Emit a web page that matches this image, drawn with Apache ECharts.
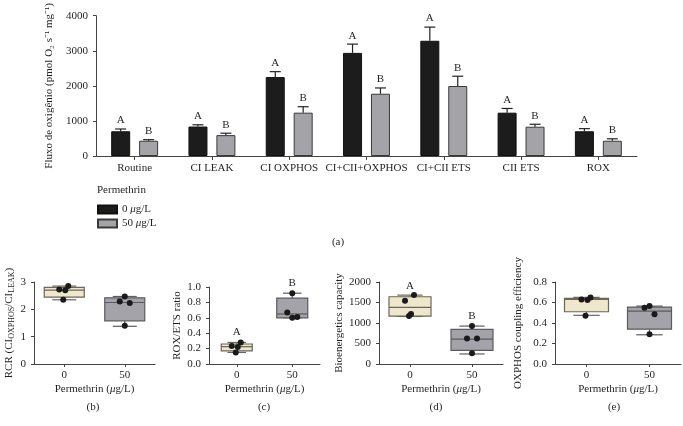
<!DOCTYPE html>
<html>
<head>
<meta charset="utf-8">
<script src="https://cdn.jsdelivr.net/npm/echarts@6/dist/echarts.min.js"></script>
<style>html,body{margin:0;padding:0;background:#fff}#c{width:683px;height:426px}</style>
</head>
<body>
<div id="c"></div>
<script>
// ---------- DATA ----------
var categories = ['Routine', 'CI LEAK', 'CI OXPHOS', 'CI+CII+OXPHOS', 'CI+CII ETS', 'CII ETS', 'ROX'];
var ctrlMean = [705, 840, 2250, 2940, 3285, 1235, 705];
var ctrlErr = [65, 50, 155, 250, 390, 120, 75];
var permMean = [435, 595, 1235, 1775, 1995, 835, 435];
var permErr = [30, 55, 170, 165, 280, 70, 55];
var ctrlLetters = ['A', 'A', 'A', 'A', 'A', 'A', 'A'];
var permLetters = ['B', 'B', 'B', 'B', 'B', 'B', 'B'];
var groups = ['0', '50'];
var seriesNames = ['0 μg/L', '50 μg/L'];
var topTicks = [0, 1000, 2000, 3000, 4000];

// box data: [min, q1, median, q3, max] per group
var rcrBox = [[2.35, 2.45, 2.70, 2.80, 2.85], [1.38, 1.58, 2.25, 2.42, 2.47]];
var rcrDots = [[2.85, 2.73, 2.70, 2.35], [2.47, 2.29, 2.23, 1.40]];
var roxBox = [[0.15, 0.17, 0.225, 0.26, 0.28], [0.60, 0.60, 0.65, 0.855, 0.92]];
var roxDots = [[0.28, 0.235, 0.22, 0.15], [0.92, 0.67, 0.61, 0.60]];
var roxLetters = ['A', 'B'];
var roxLetterY = [0.42, 1.05];
var bioBox = [[1160, 1170, 1380, 1640, 1680], [245, 330, 605, 845, 925]];
var bioDots = [[1680, 1540, 1220, 1170], [925, 620, 620, 260]];
var bioLetters = ['A', 'B'];
var bioLetterY = [1900, 1170];
var oxBox = [[0.475, 0.51, 0.63, 0.64, 0.65], [0.285, 0.34, 0.515, 0.555, 0.565]];
var oxDots = [[0.65, 0.63, 0.625, 0.47], [0.565, 0.55, 0.485, 0.29]];

// ---------- STYLE ----------
var FONT = 'Liberation Serif';
var TXT = '#231f20';
var AX = '#444';
var BLACK = '#1c1c1c';
var GRAY = '#a4a4a8';
var BEIGE = '#efe7cb';
var BOXGRAY = '#a3a3a9';
var barW = 19, barGapFrac = 0.47;
var dotJitter = [[4, -5, 1, -1], [0, -5, 5, 0]];

var chart = echarts.init(document.getElementById('c'), null, {renderer: 'canvas'});

function plain(v) { return String(v); }
function fixed1(v) { return v.toFixed(1); }

function axisCommon() {
  return {
    axisLine: {show: true, lineStyle: {color: AX, width: 1}},
    axisTick: {show: true, length: 3, lineStyle: {color: AX}},
    axisLabel: {fontFamily: FONT, fontSize: 11, color: TXT, formatter: plain},
    splitLine: {show: false},
    nameTextStyle: {fontFamily: FONT, fontSize: 11, color: TXT}
  };
}

var grids = [
  {left: 96, right: 46, top: 9, bottom: 270},
  {left: 34, right: 528, top: 282, bottom: 62},
  {left: 209, right: 363, top: 287, bottom: 62},
  {left: 379, right: 180, top: 282, bottom: 62},
  {left: 555, right: 2, top: 282, bottom: 62}
];

var xAxes = [Object.assign(axisCommon(), {
  type: 'category', gridIndex: 0, data: categories,
  axisTick: {show: true, alignWithLabel: true, length: 4, lineStyle: {color: AX}},
  axisLabel: {fontFamily: FONT, fontSize: 11, color: TXT, margin: 7, interval: 0}
})];
var permName = '{n|Permethrin (}{i|μ}{n|g/L)}';
var nameRich = {n: {fontFamily: FONT, fontSize: 11, color: TXT}, i: {fontFamily: FONT, fontSize: 11, fontStyle: 'italic', color: TXT}};
for (var g = 1; g <= 4; g++) {
  xAxes.push(Object.assign(axisCommon(), {
    type: 'category', gridIndex: g, data: groups,
    axisTick: {show: true, alignWithLabel: true, length: 3, lineStyle: {color: AX}},
    axisLabel: {fontFamily: FONT, fontSize: 11, color: TXT, margin: 6},
    name: permName, nameLocation: 'middle', nameGap: 20,
    nameTextStyle: {rich: nameRich}
  }));
}

var yAxes = [
  Object.assign(axisCommon(), {
    type: 'value', gridIndex: 0, min: topTicks[0], max: topTicks[topTicks.length - 1], interval: 1000,
    name: 'Fluxo de oxigênio (pmol O₂ s⁻¹ mg⁻¹)', nameLocation: 'middle', nameRotate: 90, nameGap: 37
  }),
  Object.assign(axisCommon(), {
    type: 'value', gridIndex: 1, min: 0, max: 3, interval: 1,
    name: '{n|RCR (CI}{s|OXPHOS}{n|/CI}{s|LEAK}{n|)}', nameLocation: 'middle', nameRotate: 90, nameGap: 18,
    nameTextStyle: {rich: {n: {fontFamily: FONT, fontSize: 11, color: TXT, lineHeight: 14}, s: {fontFamily: FONT, fontSize: 8, color: TXT, verticalAlign: 'bottom', lineHeight: 14, padding: [4, 0, 0, 0]}}}
  }),
  Object.assign(axisCommon(), {
    type: 'value', gridIndex: 2, min: 0, max: 1, interval: 0.2,
    axisLabel: {fontFamily: FONT, fontSize: 11, color: TXT, formatter: fixed1},
    name: 'ROX/ETS ratio', nameLocation: 'middle', nameRotate: 90, nameGap: 26
  }),
  Object.assign(axisCommon(), {
    type: 'value', gridIndex: 3, min: 0, max: 2000, interval: 500,
    name: 'Bioenergetics capacity', nameLocation: 'middle', nameRotate: 90, nameGap: 33
  }),
  Object.assign(axisCommon(), {
    type: 'value', gridIndex: 4, min: 0, max: 0.8, interval: 0.2,
    axisLabel: {fontFamily: FONT, fontSize: 11, color: TXT, formatter: fixed1},
    name: 'OXPHOS coupling efficiency', nameLocation: 'middle', nameRotate: 90, nameGap: 31
  })
];

function errSeries(means, errs, letters, side) {
  var data = means.map(function (m, i) { return [i, m, errs[i]]; });
  return {
    type: 'custom', xAxisIndex: 0, yAxisIndex: 0, z: 5, silent: true,
    data: data,
    renderItem: function (params, api) {
      var i = api.value(0), m = api.value(1), e = api.value(2);
      var p0 = api.coord([i, m]);
      var p1 = api.coord([i, m + e]);
      var x = p0[0] + side * barW * (1 + barGapFrac) / 2;
      var cap = 5.5;
      return {
        type: 'group', children: [
          {type: 'line', shape: {x1: x, y1: p0[1], x2: x, y2: p1[1]}, style: {stroke: '#222', lineWidth: 1.2}},
          {type: 'line', shape: {x1: x - cap, y1: p1[1], x2: x + cap, y2: p1[1]}, style: {stroke: '#222', lineWidth: 1.2}},
          {type: 'text', x: x, y: p1[1] - 3, style: {text: letters[i], fontFamily: FONT, fontSize: 11, fill: TXT, align: 'center', verticalAlign: 'bottom'}}
        ]
      };
    }
  };
}

function boxSeries(idx, box) {
  var data = box.map(function (b, i) { return [i].concat(b); });
  var fills = [BEIGE, BOXGRAY];
  var strokes = ['#6b6658', '#5b5b60'];
  var bw = [40, 31, 42, 44][idx - 1];
  return {
    type: 'custom', xAxisIndex: idx, yAxisIndex: idx, silent: true,
    data: data,
    renderItem: function (params, api) {
      var i = api.value(0);
      var pMin = api.coord([i, api.value(1)]);
      var pQ1 = api.coord([i, api.value(2)]);
      var pMed = api.coord([i, api.value(3)]);
      var pQ3 = api.coord([i, api.value(4)]);
      var pMax = api.coord([i, api.value(5)]);
      var x = pMin[0], hw = bw / 2, cw = bw * 0.3;
      var st = {stroke: strokes[i], lineWidth: 1.2};
      return {
        type: 'group', children: [
          {type: 'line', shape: {x1: x, y1: pMax[1], x2: x, y2: pQ3[1]}, style: st},
          {type: 'line', shape: {x1: x, y1: pQ1[1], x2: x, y2: pMin[1]}, style: st},
          {type: 'line', shape: {x1: x - cw, y1: pMax[1], x2: x + cw, y2: pMax[1]}, style: st},
          {type: 'line', shape: {x1: x - cw, y1: pMin[1], x2: x + cw, y2: pMin[1]}, style: st},
          {type: 'rect', shape: {x: x - hw, y: pQ3[1], width: bw, height: pQ1[1] - pQ3[1]}, style: {fill: fills[i], stroke: strokes[i], lineWidth: 1.2}},
          {type: 'line', shape: {x1: x - hw, y1: pMed[1], x2: x + hw, y2: pMed[1]}, style: st}
        ]
      };
    }
  };
}

function dotSeries(idx, dots) {
  var data = [];
  dots.forEach(function (arr, gi) { arr.forEach(function (v, k) { data.push([gi, v, k]); }); });
  return {
    type: 'custom', xAxisIndex: idx, yAxisIndex: idx, silent: true, z: 6,
    data: data,
    renderItem: function (params, api) {
      var gi = api.value(0), k = api.value(2);
      var p = api.coord([gi, api.value(1)]);
      return {type: 'circle', shape: {cx: p[0] + dotJitter[gi][k], cy: p[1], r: 3}, style: {fill: '#1a1a1a'}};
    }
  };
}

function letterSeries(idx, letters, ys) {
  return {
    type: 'custom', xAxisIndex: idx, yAxisIndex: idx, silent: true, clip: false,
    data: ys.map(function (v, i) { return [i, v]; }),
    renderItem: function (params, api) {
      var i = api.value(0);
      var p = api.coord([i, api.value(1)]);
      return {type: 'text', x: p[0], y: p[1], style: {text: letters[i], fontFamily: FONT, fontSize: 11, fill: TXT, align: 'center', verticalAlign: 'middle'}};
    }
  };
}

var series = [
  {name: seriesNames[0], type: 'bar', xAxisIndex: 0, yAxisIndex: 0, data: ctrlMean, barWidth: barW, barGap: (barGapFrac * 100) + '%',
    itemStyle: {color: BLACK, borderColor: '#111', borderWidth: 1}},
  {name: seriesNames[1], type: 'bar', xAxisIndex: 0, yAxisIndex: 0, data: permMean, barWidth: barW,
    itemStyle: {color: GRAY, borderColor: '#3a3a3a', borderWidth: 1}},
  errSeries(ctrlMean, ctrlErr, ctrlLetters, -1),
  errSeries(permMean, permErr, permLetters, 1),
  boxSeries(1, rcrBox), dotSeries(1, rcrDots),
  boxSeries(2, roxBox), dotSeries(2, roxDots), letterSeries(2, roxLetters, roxLetterY),
  boxSeries(3, bioBox), dotSeries(3, bioDots), letterSeries(3, bioLetters, bioLetterY),
  boxSeries(4, oxBox), dotSeries(4, oxDots)
];

var panelLabels = [['(a)', 338, 242], ['(b)', 93, 407], ['(c)', 264, 407], ['(d)', 436, 407], ['(e)', 614, 407]];
var graphic = panelLabels.map(function (p) {
  return {type: 'text', x: p[1], y: p[2], style: {text: p[0], fontFamily: FONT, fontSize: 11, fill: TXT, align: 'center', verticalAlign: 'middle'}};
});
graphic.push({type: 'text', x: 97, y: 190, style: {text: 'Permethrin', fontFamily: FONT, fontSize: 11, fill: TXT, verticalAlign: 'middle'}});

chart.setOption({
  animation: false,
  grid: grids,
  xAxis: xAxes,
  yAxis: yAxes,
  legend: {
    data: seriesNames, orient: 'vertical', left: 92, top: 199, itemWidth: 19, itemHeight: 8, itemGap: 3,
    icon: 'rect',
    formatter: function (n) { var parts = n.split(' '); return '{n|' + parts[0] + ' }{i|μ}{n|' + parts[1].slice(1) + '}'; },
    textStyle: {fontFamily: FONT, fontSize: 11, color: TXT, rich: nameRich}
  },
  graphic: graphic,
  series: series
});
</script>
</body>
</html>
